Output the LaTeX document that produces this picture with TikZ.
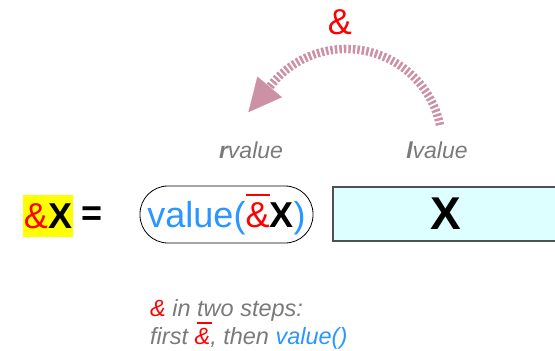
\documentclass[tikz,border=0pt]{standalone}
\usepackage{fontspec}
\setmainfont{Liberation Sans}
\usetikzlibrary{arrows.meta}
\definecolor{ampR}{RGB}{255,0,0}
\definecolor{valB}{RGB}{42,150,255}
\definecolor{txtG}{RGB}{122,122,122}
\definecolor{arrM}{RGB}{204,145,165}
\definecolor{memF}{RGB}{222,255,255}
\definecolor{memL}{RGB}{80,80,80}
\definecolor{hiY}{RGB}{255,255,0}
\newlength{\ampw}
\newcommand{\ampbar}[1][0pt]{{\color{ampR}\settowidth{\ampw}{\&}\rlap{\hspace*{#1}\rule[0.86em]{\ampw}{0.065em}}\&}}

\begin{document}
\begin{tikzpicture}[
  x=1pt, y=-1pt,
  big/.style={font=\fontsize{36}{40}\selectfont, inner sep=0pt},
  lbl/.style={font=\fontsize{23}{26}\selectfont\itshape, text=txtG, inner sep=0pt},
  flowarc/.style={line width=8.5pt, draw=arrM, dash pattern=on 2.5pt off 2pt,
    -{Triangle[length=33pt,width=32pt,line width=0.1pt,fill=arrM]}},
]
\useasboundingbox (0,0) rectangle (555,351);
\clip (0,0) rectangle (555,351);

% ---- the & operator and its arc ----
\node[big, text=ampR] (amp) at (340,22) {\&};
\coordinate (arcstart) at (440,125);
\draw[flowarc] (arcstart) arc[start angle=-12, end angle=-143, radius=96] -- ++(-21,25);

% ---- value categories ----
\node[lbl] (rval) at (251,150) {\textbf{r}value};
\node[lbl] (lval) at (437,150) {\textbf{l}value};

% ---- expression row ----
\node[big, fill=hiY, minimum width=50pt, minimum height=42pt] (ampX) at (48,216) {{\color{ampR}\&}\textbf{X}};
\node[big, font=\fontsize{36}{40}\selectfont\bfseries] (equals) at (92,216) {=};
\node[big, draw, line width=0.8pt, rounded corners=28pt, minimum width=173pt, minimum height=57pt, text=valB]
  (valbox) at (226.5,214.5) {value(\ampbar\textbf{\color{black}X})};
\node[draw=memL, fill=memF, line width=1.2pt, minimum width=226pt, minimum height=54pt, inner sep=0pt,
  font=\fontsize{46}{50}\selectfont\bfseries] (xbox) at (446,214) {X};

% ---- note ----
\node[font=\fontsize{23.5}{28}\selectfont\itshape, text=txtG, align=left, anchor=north west, inner sep=0pt]
  (note) at (150,299) {{\color{ampR}\&} in two steps:\\first \ampbar[2pt], then {\color{valB}value()}};

\end{tikzpicture}
\end{document}
